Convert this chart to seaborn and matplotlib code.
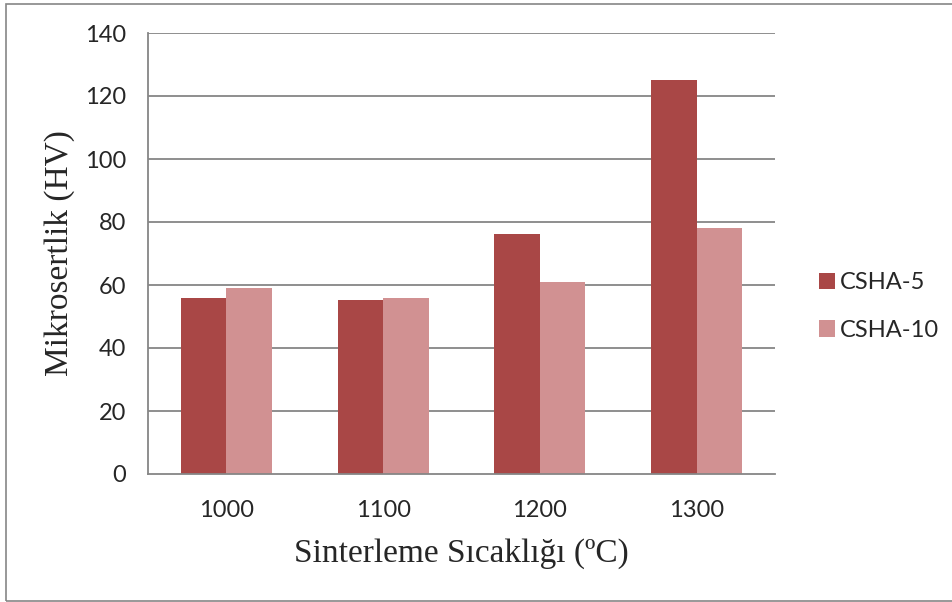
import matplotlib
matplotlib.use("Agg")
import matplotlib.pyplot as plt
import seaborn as sns
import pandas as pd
from matplotlib.patches import Rectangle

categories = ["1000", "1100", "1200", "1300"]
csha5 = [55.9, 55.3, 76.2, 125.1]
csha10 = [59.1, 55.9, 61.0, 78.1]
series_names = ["CSHA-5", "CSHA-10"]
yticks = [0, 20, 40, 60, 80, 100, 120, 140]

df = pd.DataFrame({
    "cat": categories * 2,
    "val": csha5 + csha10,
    "series": [series_names[0]] * 4 + [series_names[1]] * 4,
})

sns.set_style("white")
plt.rcParams['font.family'] = ['Lato', 'DejaVu Sans']

fig = plt.figure(figsize=(9.52, 6.02), dpi=100)
ax = fig.add_axes([148/952, 1-474/602, 627/952, (474-33)/602])

palette = {"CSHA-5": "#A94746", "CSHA-10": "#D19192"}
sns.barplot(data=df, x="cat", y="val", hue="series", order=categories,
            hue_order=series_names, palette=palette, width=0.58,
            saturation=1, ax=ax, legend=True, edgecolor="none", linewidth=0)

ax.set_ylim(0, 140)
ax.set_yticks(yticks)
ax.set_xlim(-0.5, 3.5)
grid_c = "#868686"
for t in yticks[1:]:
    ax.axhline(t, color=grid_c, lw=1.3, zorder=0)
ax.set_axisbelow(True)
for s in ["top", "right"]:
    ax.spines[s].set_visible(False)
for s in ["left", "bottom"]:
    ax.spines[s].set_color(grid_c)
    ax.spines[s].set_linewidth(1.3)
ax.tick_params(axis="y", length=0, labelsize=17, pad=16)
ax.tick_params(axis="x", length=0, labelsize=17, pad=19)

ax.set_ylabel("Mikrosertlik (HV)", family=["Liberation Serif"], fontsize=24)
ax.set_xlabel("Sinterleme Sıcaklığı (ºC)", family=["Liberation Serif"], fontsize=24)
ax.yaxis.set_label_coords((75 - 148) / 627, 0.5)
ax.xaxis.set_label_coords(0.5, (474 - 538) / 441)

leg = ax.legend(loc="center left", bbox_to_anchor=(1.07, 0.38), frameon=False,
                fontsize=17, handlelength=0.7, handleheight=0.7,
                labelspacing=1.13, handletextpad=0.2, borderaxespad=0, borderpad=0)

fig.patches.append(Rectangle((6/952, 1/602), 950/952, 597/602, transform=fig.transFigure,
                             fill=False, edgecolor="#868686", lw=1.2))

fig.savefig("out.png", dpi=100)
